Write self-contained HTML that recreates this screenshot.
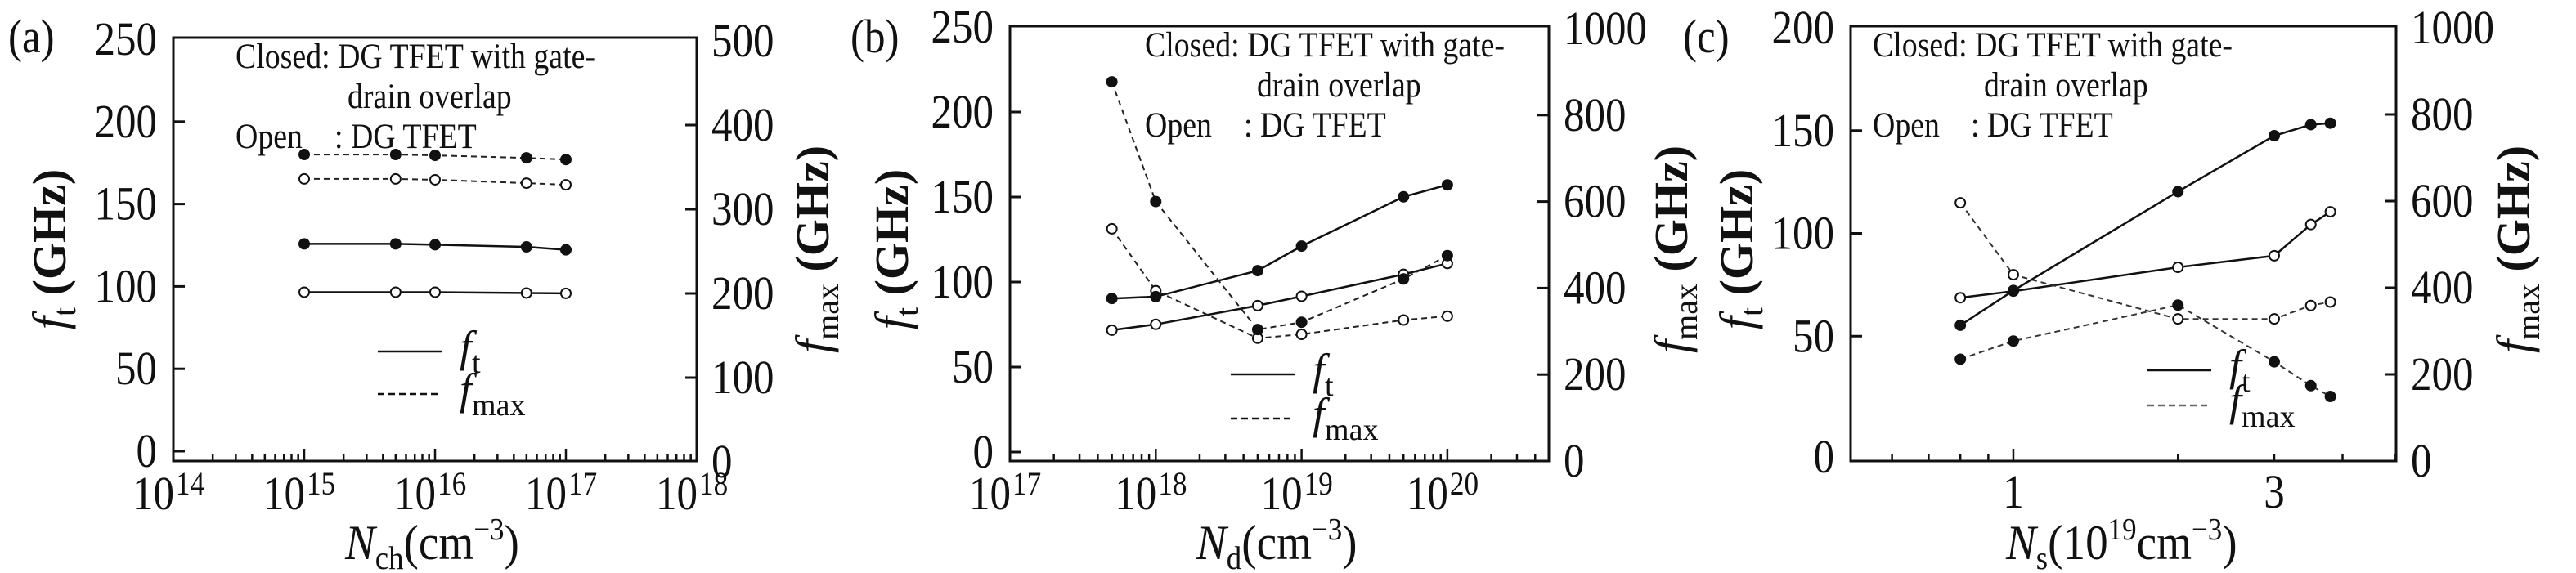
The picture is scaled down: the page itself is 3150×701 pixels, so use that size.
<!DOCTYPE html>
<html><head><meta charset="utf-8"><style>
html,body{margin:0;padding:0;background:#fff;}
svg, svg text, svg tspan{font-family:"Liberation Serif","DejaVu Serif","Times New Roman",Times,serif;}
svg{display:block;}
</style></head><body>
<svg id="fig" width="3150" height="701" viewBox="0 0 3150 701" xmlns="http://www.w3.org/2000/svg" font-family="'Liberation Serif', 'DejaVu Serif', serif"></svg>
<script>
// ---- Panel (a) data ----
const aX = [1e15, 5e15, 1e16, 5e16, 1e17];
const aFtClosed = [125.8, 125.8, 125.3, 124.0, 122.2];
const aFtOpen = [96.5, 96.5, 96.5, 96.0, 95.8];
const aFmaxClosed = [365, 365, 364, 361, 359];
const aFmaxOpen = [336, 336, 335, 331, 329];
const aXTicks = [14, 15, 16, 17, 18];
const aYLTicks = [0, 50, 100, 150, 200, 250];
const aYRTicks = [0, 100, 200, 300, 400, 500];
// ---- Panel (b) data ----
const bX = [5e17, 1e18, 5e18, 1e19, 5e19, 1e20];
const bFtClosed = [90.3, 91.4, 106.7, 121.1, 150.1, 157.1];
const bFtOpen = [71.7, 75.1, 86.1, 91.6, 104.5, 110.9];
const bFmaxClosed = [877, 600, 304, 321, 421, 475];
const bFmaxOpen = [537, 394, 284, 293, 326, 335];
const bXTicks = [17, 18, 19, 20];
const bYLTicks = [0, 50, 100, 150, 200, 250];
const bYRTicks = [0, 200, 400, 600, 800, 1000];
// ---- Panel (c) data ----
const cX = [0.8, 1, 2, 3, 3.5, 3.8];
const cFtClosed = [55.3, 72.2, 120.3, 147.5, 152.9, 153.6];
const cFtOpen = [68.7, 71.9, 83.5, 89.1, 104.3, 110.5];
const cFmaxClosed = [235, 277, 360, 229, 174, 149];
const cFmaxOpen = [596, 430, 328, 328, 359, 367];
const cXTicks = [1, 3];
const cYLTicks = [0, 50, 100, 150, 200];
const cYRTicks = [0, 200, 400, 600, 800, 1000];

const NS = "http://www.w3.org/2000/svg";
const FONT = "'Liberation Serif', 'DejaVu Serif', serif";
const svg = document.getElementById('fig');
function el(tag, attrs, parent) {
  const e = document.createElementNS(NS, tag);
  for (const k in attrs) e.setAttribute(k, attrs[k]);
  if (tag === 'text') e.setAttribute('font-family', FONT);
  (parent || svg).appendChild(e);
  return e;
}
function lab(parent, x, y, size, anchor, str) {
  const gg = el('g', {transform: 'translate(' + x + ',' + y + ') scale(0.88,1)'}, parent);
  const t = el('text', {x: 0, y: 0, 'font-size': size, 'text-anchor': anchor, fill: '#111'}, gg);
  t.textContent = str;
  return t;
}

function panel(P) {
  const g = el('g', {});
  
  
  const lx = v => P.x0 + (Math.log10(v) - P.lmin) / (P.lmax - P.lmin) * (P.x1 - P.x0);
  const yl = v => P.yl0 - v / P.lmaxY * (P.yl0 - P.yl1);
  const yr = v => P.yr0 - v / P.rmaxY * (P.yr0 - P.yr1);

  const fr = el('rect', {x: P.x0, y: P.top, width: P.x1 - P.x0, height: P.bot - P.top, fill: 'none', stroke: '#111', 'stroke-width': 3}, g);
  
  

  const pl = lab(g, P.labX, 64, 58, 'start', '(' + P.id + ')');
  
  

  P.yLTicks.forEach(v => {
    const special = (P.id === 'c' && (v === 0 || v === 200));
    const y = (P.id === 'c' && v === 0) ? P.bot - 5 : (P.id === 'c' && v === 200) ? P.top + 2 : yl(v);
    if (!special && y > P.top + 6 && y < P.bot - 3) {
      el('line', {x1: P.x0, x2: P.x0 + 14, y1: y, y2: y, stroke: '#111', 'stroke-width': 3}, g);
    }
    const t = lab(g, P.x0 - 20, y + 19, 58, 'end', String(v));
    
    
  });
  P.yRTicks.forEach(v => {
    const y = yr(v);
    if (y > P.top + 6 && y < P.bot - 3) {
      el('line', {x1: P.x1 - 14, x2: P.x1, y1: y, y2: y, stroke: '#111', 'stroke-width': 3}, g);
    }
    const t = lab(g, P.x1 + 18, y + 19, 58, 'start', String(v));
    
    
  });
  for (let d = Math.floor(P.lmin); d < P.lmax; d++) {
    for (let m = 1; m <= 9; m++) {
      const lv = d + Math.log10(m);
      if (lv < P.lmin + 0.001 || lv > P.lmax - 0.001) continue;
      if (P.id === 'c' && m === 5 && d === -1) continue;
      const x = lx(Math.pow(10, lv));
      const len = (m === 1) ? 15 : 8;
      el('line', {x1: x, x2: x, y1: P.bot, y2: P.bot - len, stroke: '#111', 'stroke-width': 2.5}, g);
    }
  }
  if (P.id !== 'c') {
    P.xTicks.forEach(e => {
      const x = lx(Math.pow(10, e));
      const t = lab(g, x + 1, 623, 58, 'end', '10');
      
      
      lab(g, x + 3, 605, 40, 'start', String(e));
    });
  } else {
    P.xTicks.forEach(v => {
      const t = lab(g, lx(v), 621, 58, 'middle', String(v));
      
      
    });
  }

  function series(xs, ys, sc, dashed, filled, name) {
    const pts = xs.map((x, i) => lx(x).toFixed(1) + ',' + sc(ys[i]).toFixed(1)).join(' ');
    const pl = el('polyline', {points: pts, fill: 'none', stroke: dashed ? (P.id === 'c' ? '#333' : '#222') : '#111', 'stroke-width': dashed ? 2 : 2.5, 'stroke-dasharray': dashed ? '7,5' : 'none'}, g);
    
    
    xs.forEach((x, i) => {
      const c = el('circle', {cx: lx(x), cy: sc(ys[i]), r: 6, fill: filled ? '#111' : '#fff', stroke: '#111', 'stroke-width': 2}, g);
      
      
    });
  }
  series(P.xs, P.ftO, yl, false, false, 'ft-open');
  series(P.xs, P.fmO, yr, true, false, 'fmax-open');
  series(P.xs, P.ftC, yl, false, true, 'ft-closed');
  series(P.xs, P.fmC, yr, true, true, 'fmax-closed');

  const ann = el('g', {fill: '#111'}, g);
  
  
  lab(ann, P.annX, P.annY, 43, 'start', 'Closed: DG TFET with gate-');
  lab(ann, P.annX2, P.annY + 49, 43, 'start', 'drain overlap');
  lab(ann, P.annX, P.annY + 98, 43, 'start', 'Open');
  lab(ann, P.annX2 - 16, P.annY + 98, 43, 'start', ': DG TFET');

  const lg = el('g', {}, g);
  
  
  el('line', {x1: P.legX, x2: P.legX + 78, y1: P.legY, y2: P.legY, stroke: '#111', 'stroke-width': 2.5}, lg);
  const t1 = el('text', {x: P.legX + 100, y: P.legY + 12, 'font-size': 54, 'font-style': 'italic', fill: '#111'}, lg);
  t1.innerHTML = 'f<tspan font-style="normal" font-size="38" dy="14">t</tspan>';
  el('line', {x1: P.legX, x2: P.legX + 78, y1: P.legY + P.legDy, y2: P.legY + P.legDy, stroke: P.id === 'c' ? '#666' : '#111', 'stroke-width': 2.5, 'stroke-dasharray': '8,5'}, lg);
  const t2 = el('text', {x: P.legX + 100, y: P.legY + P.legDy + 12, 'font-size': 54, 'font-style': 'italic', fill: '#111'}, lg);
  t2.innerHTML = 'f<tspan font-style="normal" font-size="38" dy="14">max</tspan>';

  const yt = el('text', {transform: 'translate(' + P.ylTitleX + ',305) rotate(-90)', 'font-size': 58, 'text-anchor': 'middle', fill: '#111'}, g);
  yt.innerHTML = '<tspan font-style="italic">f</tspan><tspan font-size="40" dy="12">t</tspan><tspan dy="-12" font-weight="bold"> (GHz)</tspan>';
  
  
  const yt2 = el('text', {transform: 'translate(' + P.yrTitleX + ',305) rotate(-90)', 'font-size': 58, 'text-anchor': 'middle', fill: '#111'}, g);
  yt2.innerHTML = '<tspan font-style="italic">f</tspan><tspan font-size="40" dy="12">max</tspan><tspan dy="-12" font-weight="bold"> (GHz)</tspan>';
  
  
  const xg = el('g', {transform: 'translate(' + P.xtX + ',684) scale(0.92,1)'}, g);
  const xt = el('text', {x: 0, y: 0, 'font-size': 60, fill: '#111'}, xg);
  xt.innerHTML = P.xTitle;
  
  
}

panel({id: 'a', x0: 212, x1: 852, top: 46, bot: 564, lmin: 14, lmax: 18,
  yl0: 552, yl1: 48, lmaxY: 250, yr0: 565, yr1: 50, rmaxY: 500,
  xs: aX, ftC: aFtClosed, ftO: aFtOpen, fmC: aFmaxClosed, fmO: aFmaxOpen,
  xTicks: aXTicks, yLTicks: aYLTicks, yRTicks: aYRTicks,
  labX: 10, annX: 288, annX2: 425, annY: 83, legX: 462, legY: 430, legDy: 52,
  ylTitleX: 80, yrTitleX: 1013, xtX: 422,
  xTitle: '<tspan font-style="italic">N</tspan><tspan font-size="40" dy="12">ch</tspan><tspan dy="-12">(cm</tspan><tspan font-size="38" dy="-24">−3</tspan><tspan dy="24">)</tspan>'});
panel({id: 'b', x0: 1235, x1: 1894, top: 32, bot: 564, lmin: 17, lmax: 20.696,
  yl0: 553, yl1: 33, lmaxY: 250, yr0: 564, yr1: 35, rmaxY: 1000,
  xs: bX, ftC: bFtClosed, ftO: bFtOpen, fmC: bFmaxClosed, fmO: bFmaxOpen,
  xTicks: bXTicks, yLTicks: bYLTicks, yRTicks: bYRTicks,
  labX: 1040, annX: 1400, annX2: 1537, annY: 69, legX: 1505, legY: 458, legDy: 54,
  ylTitleX: 1110, yrTitleX: 2063, xtX: 1463,
  xTitle: '<tspan font-style="italic">N</tspan><tspan font-size="40" dy="12">d</tspan><tspan dy="-12">(cm</tspan><tspan font-size="38" dy="-24">−3</tspan><tspan dy="24">)</tspan>'});
panel({id: 'c', x0: 2263, x1: 2930, top: 32, bot: 564, lmin: Math.log10(0.504), lmax: 0.7,
  yl0: 537, yl1: 34, lmaxY: 200, yr0: 564, yr1: 34, rmaxY: 1000,
  xs: cX, ftC: cFtClosed, ftO: cFtOpen, fmC: cFmaxClosed, fmO: cFmaxOpen,
  xTicks: cXTicks, yLTicks: cYLTicks, yRTicks: cYRTicks,
  labX: 2058, annX: 2290, annX2: 2426, annY: 69, legX: 2626, legY: 453, legDy: 43,
  ylTitleX: 2143, yrTitleX: 3093, xtX: 2453,
  xTitle: '<tspan font-style="italic">N</tspan><tspan font-size="40" dy="12">s</tspan><tspan dy="-12">(10</tspan><tspan font-size="38" dy="-24">19</tspan><tspan dy="24">cm</tspan><tspan font-size="38" dy="-24">−3</tspan><tspan dy="24">)</tspan>'});
</script>
</body></html>
